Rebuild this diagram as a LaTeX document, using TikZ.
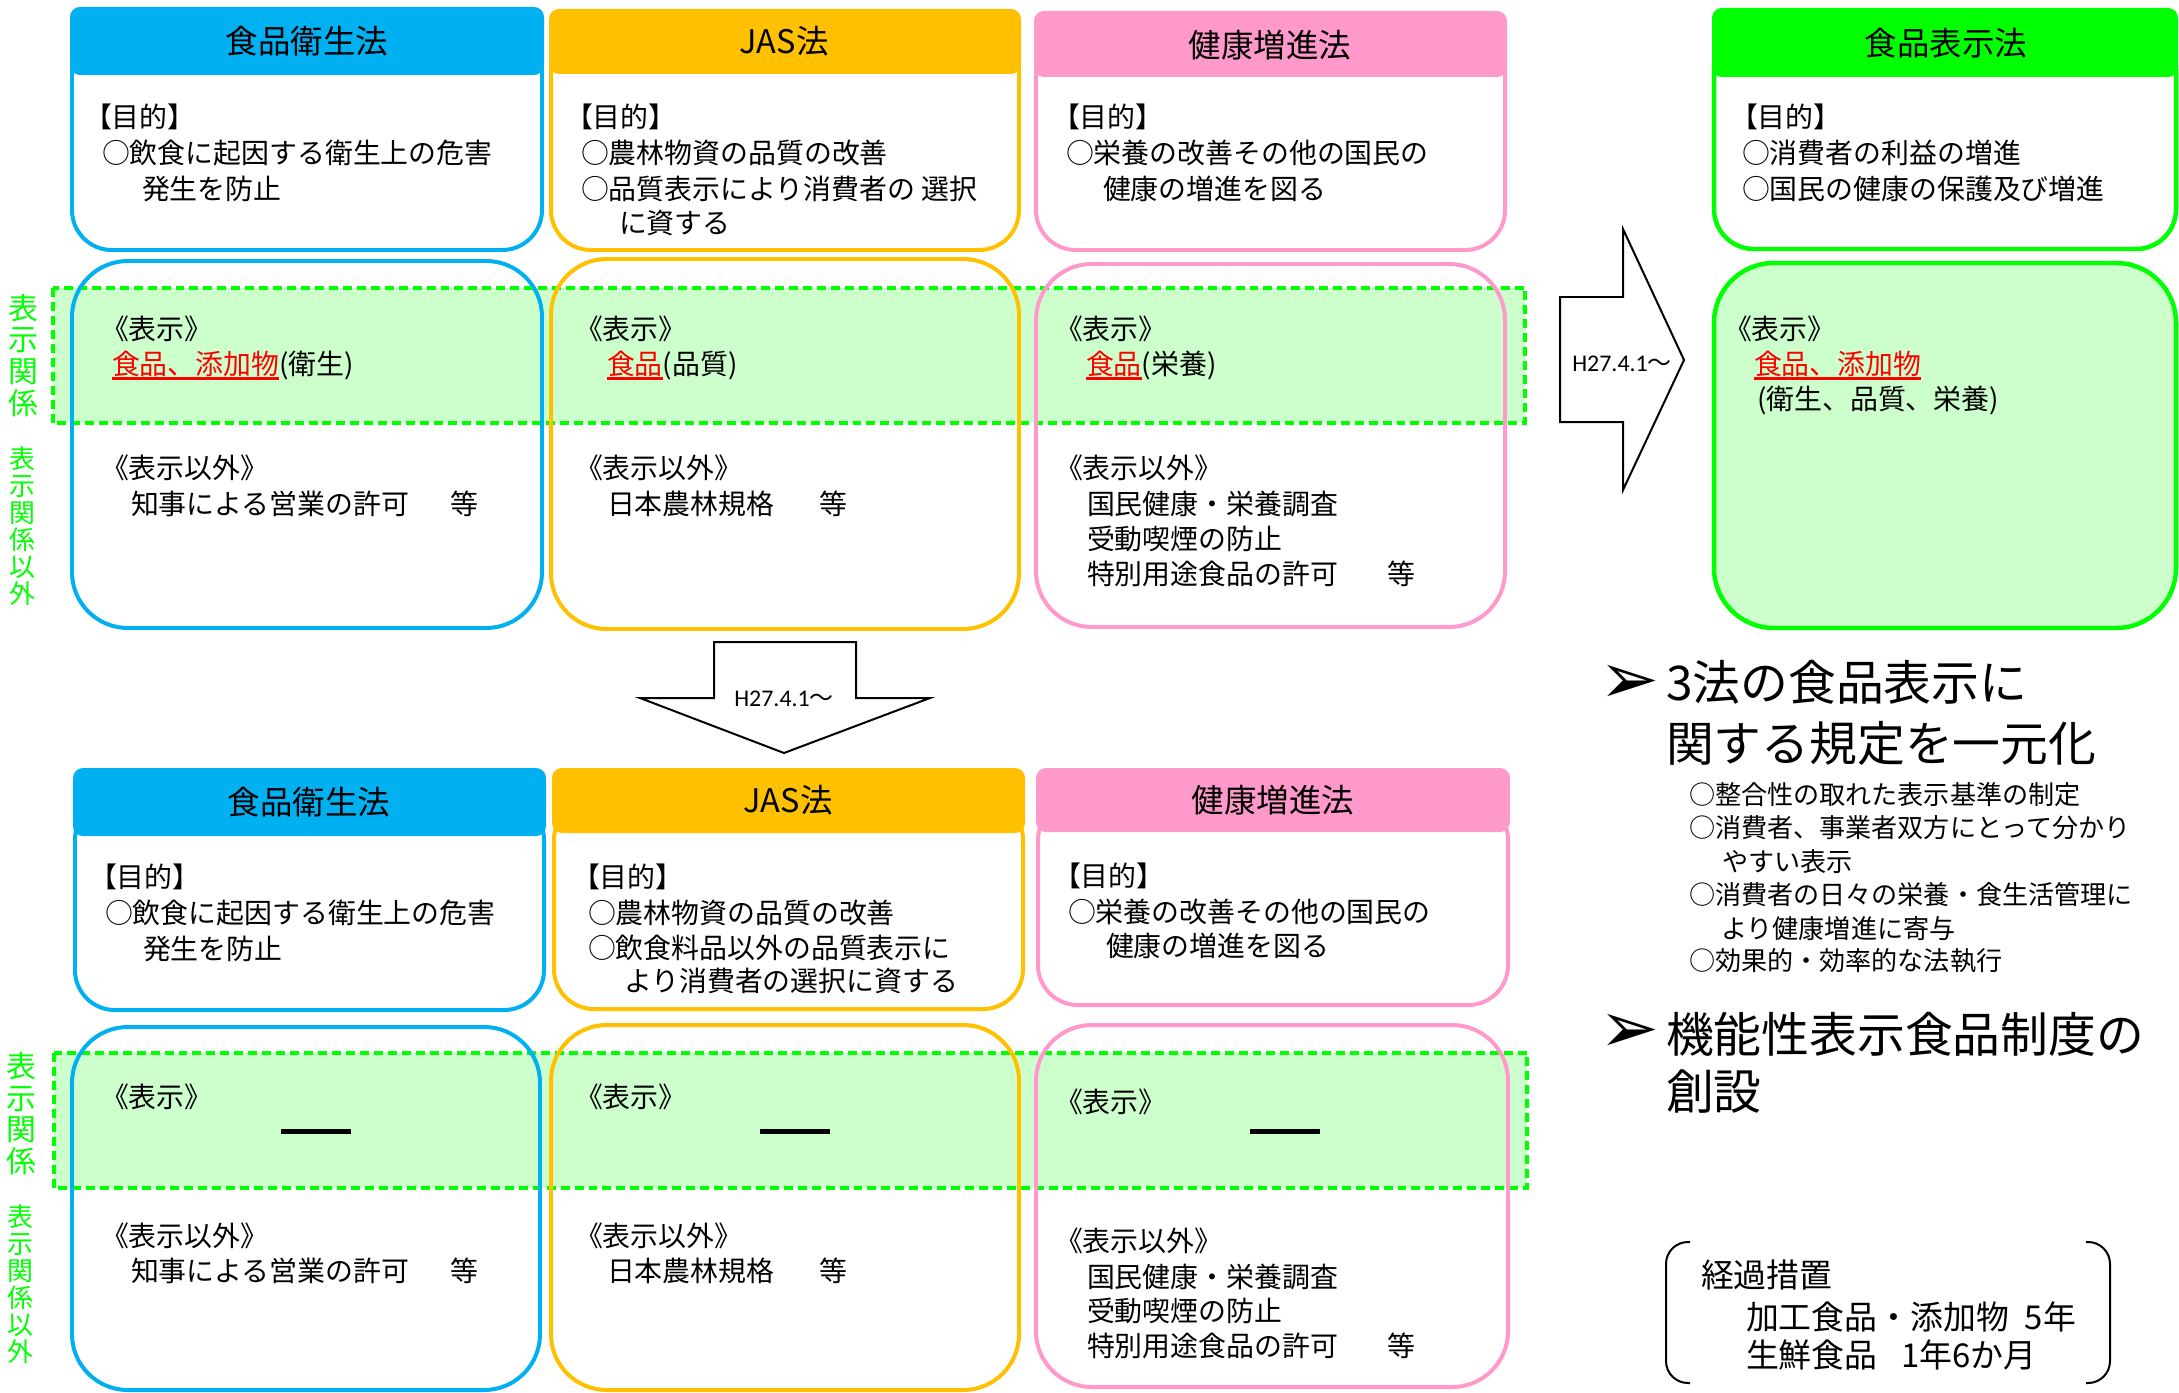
\documentclass[tikz,border=0pt]{standalone}
\usepackage{fontspec}
\setmainfont{Noto Sans CJK JP}
\newfontfamily\dvfont{DejaVu Sans}
\newfontfamily\carlfont{Carlito}
\definecolor{cblue}{HTML}{00B0F0}
\definecolor{corange}{HTML}{FFC000}
\definecolor{cpink}{HTML}{FF99CC}
\definecolor{cgreen}{HTML}{00FF00}
\definecolor{lgreen}{HTML}{CCFFCC}
\definecolor{cred}{HTML}{FF0000}
\newcommand\redul[1]{{\color{cred}\setbox0\hbox{#1}\rlap{\rule[-3pt]{\wd0}{1.5pt}}\box0}}
\begin{document}
\begin{tikzpicture}[x=0.5bp,y=-0.5bp,
  body/.style={anchor=base west, inner sep=0pt, outer sep=0pt, font=\fontsize{14}{16}\selectfont},
  hdr/.style={inner sep=0pt, outer sep=0pt, font=\fontsize{16.3}{18}\selectfont},
  subitem/.style={anchor=base west, inner sep=0pt, outer sep=0pt, font=\fontsize{13.1}{15}\selectfont},
  bighead/.style={anchor=base west, inner sep=0pt, outer sep=0pt, font=\fontsize{24}{26}\selectfont},
  brk/.style={anchor=base west, inner sep=0pt, outer sep=0pt, font=\fontsize{16.5}{18}\selectfont},
  arrowlbl/.style={inner sep=0pt, outer sep=0pt, font=\fontsize{12}{14}\selectfont},
  vbig/.style={anchor=north, inner sep=0pt, outer sep=0pt, align=center, text=cgreen, font=\fontsize{15}{16}\selectfont},
  vsmall/.style={anchor=north, inner sep=0pt, outer sep=0pt, align=center, text=cgreen, font=\fontsize{13}{13.5}\selectfont},
  dashbox/.style={cgreen, line width=2pt, dash pattern=on 4.5pt off 2.5pt},
  purp/.style={line width=2pt, rounded corners=20pt},
  lowbox/.style={line width=2pt, rounded corners=28pt},
  headfill/.style={rounded corners=5pt},
  blockarrow/.style={draw=black, fill=white, line width=1pt, line join=miter},
  bracket/.style={draw=black, line width=1pt, rounded corners=11pt},
  bullet/.style={inner sep=0pt, outer sep=0pt, font=\dvfont\fontsize{36}{38}\selectfont},
  nodash/.style={inner sep=0pt, outer sep=0pt}
]
\useasboundingbox (0,0) rectangle (2179,1393);
\fill[white] (0,0) rectangle (2179,1393);

% ---------- dashed display bands (fill) ----------
\fill[lgreen] (53,288) rectangle (1525,423);
\fill[lgreen] (54,1053) rectangle (1527,1188);
\draw[dashbox] (53,288) rectangle (1525,423);
\draw[dashbox] (54,1053) rectangle (1527,1188);

% ---------- TOP ROW ----------
\draw[cblue, purp] (72,30) rectangle (542,250);
\fill[cblue, headfill] (70,7) rectangle (544,75);
\draw[cblue, lowbox] (72,261) rectangle (542,628);
\draw[corange, purp] (551,30) rectangle (1019,250);
\fill[corange, headfill] (549,9) rectangle (1021,74);
\draw[corange, lowbox] (551,259) rectangle (1019,629);
\draw[cpink, purp] (1036,30) rectangle (1505,250);
\fill[cpink, headfill] (1034,11) rectangle (1507,77);
\draw[cpink, lowbox] (1036,264) rectangle (1505,627);
\draw[cgreen, line width=2.25pt, rounded corners=20pt] (1714,30) rectangle (2176,249);
\fill[cgreen, headfill] (1712,8) rectangle (2178,77);
\draw[cgreen, fill=lgreen, line width=2.25pt, rounded corners=30pt] (1714,263) rectangle (2176,628);

% ---------- BOTTOM ROW ----------
\draw[cblue, purp] (75,800) rectangle (544,1010);
\fill[cblue, headfill] (73,768) rectangle (546,836);
\draw[cblue, lowbox] (72,1027) rectangle (540,1390);
\draw[corange, purp] (554,800) rectangle (1023,1009);
\fill[corange, headfill] (552,768) rectangle (1025,833);
\draw[corange, lowbox] (551,1025) rectangle (1019,1390);
\draw[cpink, purp] (1038,800) rectangle (1508,1005);
\fill[cpink, headfill] (1036,768) rectangle (1510,832);
\draw[cpink, lowbox] (1036,1025) rectangle (1508,1387);

% ---------- headers ----------
\node[hdr] (hA) at (307,41) {食品衛生法};
\node[hdr] (hB) at (784,41) {JAS法};
\node[hdr] (hC) at (1270,45) {健康増進法};
\node[hdr] (hD) at (1946,43) {食品表示法};
\node[hdr] (hE) at (309,802) {食品衛生法};
\node[hdr] (hF) at (788,800) {JAS法};
\node[hdr] (hG) at (1273,800) {健康増進法};

% ---------- green side labels ----------
\node[vbig] (sA) at (23,294) {表\\示\\関\\係};
\node[vsmall] (sB) at (22,447) {表\\示\\関\\係\\以\\外};
\node[vbig] (sC) at (21,1052) {表\\示\\関\\係};
\node[vsmall] (sD) at (20,1205) {表\\示\\関\\係\\以\\外};

% ---------- top blue texts ----------
\node[body] (a1) at (84,128) {【目的】};
\node[body] (a2) at (102,163) {○飲食に起因する衛生上の危害};
\node[body] (a3) at (142,199) {発生を防止};
\node[body] (a4) at (101,339) {《表示》};
\node[body] (a5) at (112,374) {\redul{食品、添加物}(衛生)};
\node[body] (a6) at (101,478) {《表示以外》};
\node[body] (a7) at (131,514) {知事による営業の許可\hspace{21pt}等};

% ---------- top orange texts ----------
\node[body] (b1) at (565,128) {【目的】};
\node[body] (b2) at (581,163) {○農林物資の品質の改善};
\node[body] (b3) at (581,199) {○品質表示により消費者の 選択};
\node[body] (b4) at (619,233) {に資する};
\node[body] (b5) at (575,339) {《表示》};
\node[body] (b6) at (607,374) {\redul{食品}(品質)};
\node[body] (b7) at (575,478) {《表示以外》};
\node[body] (b8) at (607,514) {日本農林規格\hspace{22.5pt}等};

% ---------- top pink texts ----------
\node[body] (c1) at (1052,128) {【目的】};
\node[body] (c2) at (1066,163) {○栄養の改善その他の国民の};
\node[body] (c3) at (1103,199) {健康の増進を図る};
\node[body] (c4) at (1055,339) {《表示》};
\node[body] (c5) at (1086,374) {\redul{食品}(栄養)};
\node[body] (c6) at (1055,478) {《表示以外》};
\node[body] (c7) at (1087,514) {国民健康・栄養調査};
\node[body] (c8) at (1087,549) {受動喫煙の防止};
\node[body] (c9) at (1087,584) {特別用途食品の許可\hspace{25pt}等};

% ---------- green texts ----------
\node[body] (d1) at (1730,128) {【目的】};
\node[body] (d2) at (1742,163) {○消費者の利益の増進};
\node[body] (d3) at (1742,199) {○国民の健康の保護及び増進};
\node[body] (d4) at (1724,339) {《表示》};
\node[body] (d5) at (1754,374) {\redul{食品、添加物}};
\node[body] (d6) at (1757,409) {(衛生、品質、栄養)};

% ---------- bottom blue texts ----------
\node[body] (e1) at (89,887) {【目的】};
\node[body] (e2) at (105,923) {○飲食に起因する衛生上の危害};
\node[body] (e3) at (143,959) {発生を防止};
\node[body] (e4) at (101,1107) {《表示》};
\node[nodash] (e5) at (316,1131) {\rule{35pt}{2.5pt}};
\node[body] (e6) at (101,1246) {《表示以外》};
\node[body] (e7) at (131,1281) {知事による営業の許可\hspace{21pt}等};

% ---------- bottom orange texts ----------
\node[body] (f1) at (572,887) {【目的】};
\node[body] (f2) at (588,923) {○農林物資の品質の改善};
\node[body] (f3) at (588,958) {○飲食料品以外の品質表示に};
\node[body] (f4) at (624,991) {より消費者の選択に資する};
\node[body] (f5) at (575,1107) {《表示》};
\node[nodash] (f6) at (795,1131) {\rule{35pt}{2.5pt}};
\node[body] (f7) at (575,1246) {《表示以外》};
\node[body] (f8) at (607,1281) {日本農林規格\hspace{22.5pt}等};

% ---------- bottom pink texts ----------
\node[body] (g1) at (1053,886) {【目的】};
\node[body] (g2) at (1068,922) {○栄養の改善その他の国民の};
\node[body] (g3) at (1106,956) {健康の増進を図る};
\node[body] (g4) at (1055,1112) {《表示》};
\node[nodash] (g5) at (1285,1131) {\rule{35pt}{2.5pt}};
\node[body] (g6) at (1055,1251) {《表示以外》};
\node[body] (g7) at (1087,1287) {国民健康・栄養調査};
\node[body] (g8) at (1087,1321) {受動喫煙の防止};
\node[body] (g9) at (1087,1356) {特別用途食品の許可\hspace{25pt}等};

% ---------- block arrows ----------
\draw[blockarrow] (1560,297) -- (1623,297) -- (1623,229) -- (1684,360) -- (1623,490) -- (1623,422) -- (1560,422) -- cycle;
\node[arrowlbl] (rl) at (1622,364) {{\carlfont H27.4.1}～};
\draw[blockarrow] (714,642) -- (856,642) -- (856,698) -- (930,698) -- (784,753) -- (640,698) -- (714,698) -- cycle;
\node[arrowlbl] (dl) at (784,699) {{\carlfont H27.4.1}～};

% ---------- right side summary ----------
\node[bullet] (m1) at (1630,684) {➢};
\node[bighead] (m2) at (1666,700) {3法の食品表示に};
\node[bighead] (m3) at (1666,761) {関する規定を一元化};
\node[subitem] (m4) at (1689,804) {○整合性の取れた表示基準の制定};
\node[subitem] (m5) at (1689,837) {○消費者、事業者双方にとって分かり};
\node[subitem] (m6) at (1722,871) {やすい表示};
\node[subitem] (m7) at (1689,904) {○消費者の日々の栄養・食生活管理に};
\node[subitem] (m8) at (1721,938) {より健康増進に寄与};
\node[subitem] (m9) at (1689,970) {○効果的・効率的な法執行};
\node[bullet] (n1) at (1630,1033) {➢};
\node[bighead] (n2) at (1666,1052) {機能性表示食品制度の};
\node[bighead] (n3) at (1666,1109) {創設};

% ---------- transition bracket ----------
\draw[bracket] (1690,1242) -- (1666,1242) -- (1666,1383) -- (1690,1383);
\draw[bracket] (2086,1242) -- (2110,1242) -- (2110,1383) -- (2086,1383);
\node[brk] (k1) at (1701,1287) {経過措置};
\node[brk] (k2) at (1746,1329) {加工食品・添加物\hspace{8pt}5年};
\node[brk] (k3) at (1746,1367) {生鮮食品\hspace{12pt}1年6か月};
\end{tikzpicture}
\end{document}
